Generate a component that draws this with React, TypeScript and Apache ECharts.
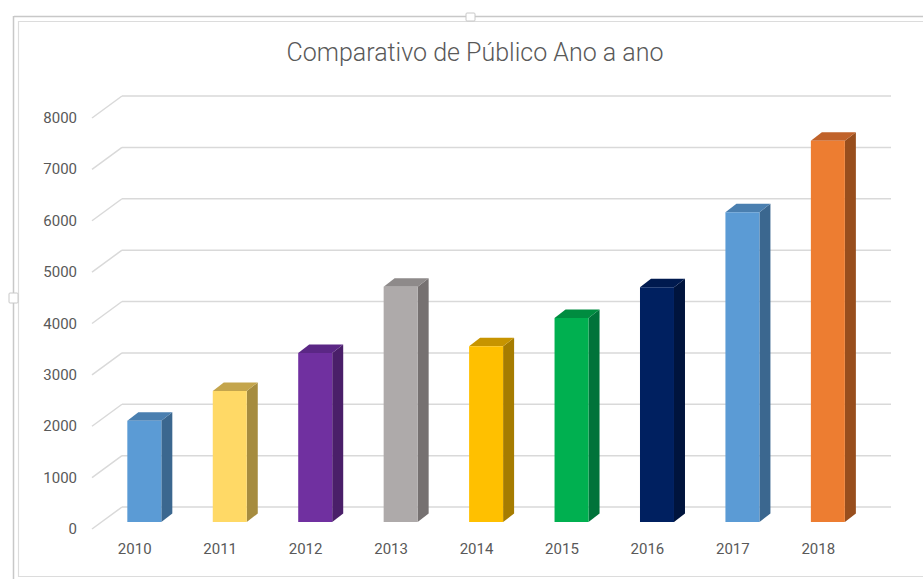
import React, { useEffect, useRef } from "react";
import * as echarts from "echarts";

const TITLE = "Comparativo de Público Ano a ano";
const years = ["2010", "2011", "2012", "2013", "2014", "2015", "2016", "2017", "2018"];
const publico = [1970, 2550, 3290, 4580, 3420, 3970, 4570, 6030, 7420];
const yTicks = [0, 1000, 2000, 3000, 4000, 5000, 6000, 7000, 8000];

const frontColors = ["#5b9bd5", "#ffd966", "#7030a0", "#aeaaaa", "#ffc000", "#00b050", "#002060", "#5b9bd5", "#ed7d31"];
const sideColors = ["#3b678f", "#a68c3f", "#4a1f69", "#767171", "#a67c00", "#00733a", "#00143d", "#3b678f", "#984e1d"];
const topColors = ["#4a7fb0", "#c4a54c", "#5b2785", "#8e8a8a", "#c79400", "#008c40", "#001a4f", "#4a7fb0", "#c0622a"];

export default function App() {
  const ref = useRef<HTMLDivElement>(null);
  useEffect(() => {
    if (!ref.current) return;
    const chart = echarts.init(ref.current, null, { renderer: "svg" });
    const WALL_DX = 30;
    const WALL_DY = -22;
    const BAR_OX = 9.6;
    const BAR_OY = -7;
    const BAR_W = 34;
    const D_DX = 11;
    const D_DY = -8.5;
    const gridColor = "#d9d9d9";

    chart.setOption({
      animation: false,
      title: {
        text: TITLE,
        left: 470,
        top: 35,
        textAlign: "center",
        textStyle: { fontFamily: "Roboto", fontWeight: 300, fontSize: 25, color: "#595959" },
      },
      grid: { left: 92, top: 118, width: 769, height: 411 },
      xAxis: {
        type: "category",
        data: years,
        axisLine: { show: false },
        axisTick: { show: false },
        axisLabel: { margin: 12, fontFamily: "Roboto", fontSize: 15, color: "#595959" },
      },
      yAxis: {
        type: "value",
        min: 0,
        max: 8000,
        interval: 1000,
        splitLine: { show: false },
        axisLine: { show: false },
        axisTick: { show: false },
        axisLabel: {
          margin: 15,
          fontFamily: "Roboto",
          fontSize: 15,
          color: "#595959",
          formatter: (v: number) => String(v),
        },
      },
      graphic: [
        { type: "line", shape: { x1: 14, y1: 16.5, x2: 923, y2: 16.5 }, style: { stroke: "#c8c8c8", lineWidth: 1.5 }, z: 0 },
        { type: "line", shape: { x1: 13.5, y1: 16, x2: 13.5, y2: 579 }, style: { stroke: "#c8c8c8", lineWidth: 1.5 }, z: 0 },
        { type: "line", shape: { x1: 19, y1: 21.5, x2: 923, y2: 21.5 }, style: { stroke: "#dcdcdc", lineWidth: 1.2 }, z: 0 },
        { type: "line", shape: { x1: 18.5, y1: 21, x2: 18.5, y2: 577 }, style: { stroke: "#dcdcdc", lineWidth: 1.2 }, z: 0 },
        { type: "line", shape: { x1: 18, y1: 576.5, x2: 923, y2: 576.5 }, style: { stroke: "#dcdcdc", lineWidth: 1.2 }, z: 0 },
        { type: "rect", shape: { x: 466, y: 13, width: 9, height: 8, r: 1 }, style: { fill: "#fff", stroke: "#c8c8c8", lineWidth: 1 }, z: 1 },
        { type: "rect", shape: { x: 9, y: 293, width: 9, height: 10, r: 1 }, style: { fill: "#fff", stroke: "#c8c8c8", lineWidth: 1 }, z: 1 },
      ],
      series: [
        {
          type: "custom",
          z: 1,
          silent: true,
          data: yTicks.map((v) => [0, v]),
          renderItem: (params: any, api: any) => {
            const cs = params.coordSys;
            const p = api.coord([0, api.value(1)]);
            const y = p[1];
            return {
              type: "group",
              children: [
                {
                  type: "line",
                  shape: { x1: cs.x, y1: y, x2: cs.x + WALL_DX, y2: y + WALL_DY },
                  style: { stroke: gridColor, lineWidth: 1.5 },
                },
                {
                  type: "line",
                  shape: { x1: cs.x + WALL_DX, y1: y + WALL_DY, x2: cs.x + cs.width + WALL_DX, y2: y + WALL_DY },
                  style: { stroke: gridColor, lineWidth: 1.5 },
                },
              ],
            };
          },
        },
        {
          type: "custom",
          z: 2,
          data: years.map((_, i) => [i, publico[i]]),
          renderItem: (params: any, api: any) => {
            const i = params.dataIndex;
            const top = api.coord([api.value(0), api.value(1)]);
            const base = api.coord([api.value(0), 0]);
            const x0 = top[0] + BAR_OX - BAR_W / 2;
            const x1 = x0 + BAR_W;
            const yT = top[1] + BAR_OY;
            const yB = base[1] + BAR_OY;
            return {
              type: "group",
              children: [
                {
                  type: "polygon",
                  shape: { points: [[x1, yT], [x1 + D_DX, yT + D_DY], [x1 + D_DX, yB + D_DY], [x1, yB]] },
                  style: { fill: sideColors[i] },
                },
                {
                  type: "polygon",
                  shape: { points: [[x0, yT], [x0 + D_DX, yT + D_DY], [x1 + D_DX, yT + D_DY], [x1, yT]] },
                  style: { fill: topColors[i] },
                },
                {
                  type: "rect",
                  shape: { x: x0, y: yT, width: BAR_W, height: yB - yT },
                  style: { fill: frontColors[i] },
                },
              ],
            };
          },
        },
      ],
    });
    return () => chart.dispose();
  }, []);
  return (
    <div
      ref={ref}
      style={{ position: "fixed", left: 0, top: 0, width: 923, height: 579, background: "#fff" }}
    />
  );
}
